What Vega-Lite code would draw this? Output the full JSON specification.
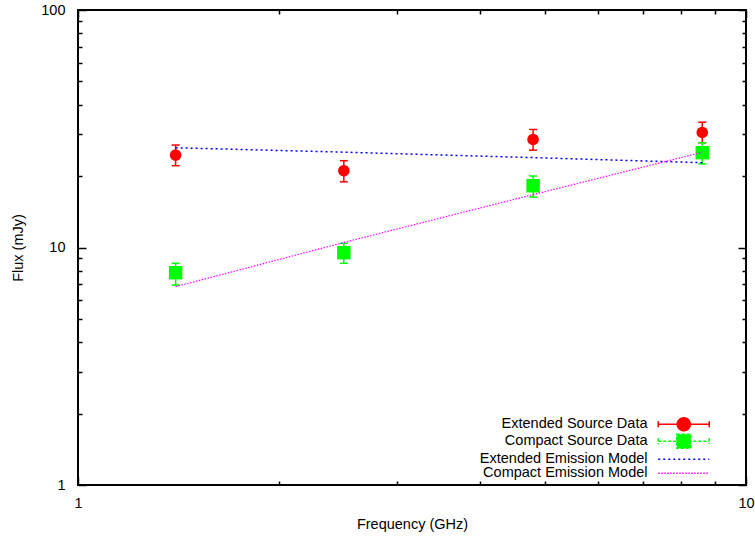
{
  "$schema": "https://vega.github.io/schema/vega-lite/v6.json",
  "width": 668,
  "height": 475,
  "autosize": {"type": "none"},
  "padding": {"left": 78, "top": 10, "right": 9, "bottom": 52},
  "background": "white",
  "config": {
    "view": {"stroke": "black", "strokeWidth": 2},
    "font": "Liberation Sans",
    "axis": {
      "domain": false,
      "grid": false,
      "labelFont": "Liberation Sans",
      "labelFontSize": 14.5,
      "labelColor": "black",
      "titleFont": "Liberation Sans",
      "titleFontSize": 14.5,
      "titleFontWeight": "normal",
      "titleColor": "black",
      "tickColor": "black",
      "tickWidth": 1.5
    },
    "legend": {
      "orient": "none",
      "legendX": 598.5,
      "legendY": 407,
      "padding": 0,
      "symbolSize": 100,
      "symbolStrokeWidth": 1.5,
      "symbolOpacity": 1,
      "labelAlign": "right",
      "labelOffset": -43.5,
      "labelFont": "Liberation Sans",
      "labelFontSize": 14.5,
      "labelColor": "black",
      "labelLimit": 0,
      "rowPadding": -5
    }
  },
  "datasets": {
    "points": [
      {"series": "Extended Source Data", "freq": 1.4, "flux": 24.5, "lo": 22.1, "hi": 27.0},
      {"series": "Extended Source Data", "freq": 2.5, "flux": 21.05, "lo": 18.9, "hi": 23.2},
      {"series": "Extended Source Data", "freq": 4.8, "flux": 28.5, "lo": 25.7, "hi": 31.4},
      {"series": "Extended Source Data", "freq": 8.6, "flux": 30.5, "lo": 27.6, "hi": 33.7},
      {"series": "Compact Source Data", "freq": 1.4, "flux": 7.83, "lo": 6.95, "hi": 8.58},
      {"series": "Compact Source Data", "freq": 2.5, "flux": 9.51, "lo": 8.58, "hi": 10.42},
      {"series": "Compact Source Data", "freq": 4.8, "flux": 18.2, "lo": 16.3, "hi": 20.0},
      {"series": "Compact Source Data", "freq": 8.6, "flux": 25.07, "lo": 22.5, "hi": 27.6}
    ],
    "models": [
      {"model": "Extended Emission Model", "freq": 1.4, "flux": 26.3},
      {"model": "Extended Emission Model", "freq": 2.5, "flux": 25.2},
      {"model": "Extended Emission Model", "freq": 4.8, "flux": 23.9},
      {"model": "Extended Emission Model", "freq": 8.6, "flux": 22.75},
      {"model": "Compact Emission Model", "freq": 1.4, "flux": 6.84},
      {"model": "Compact Emission Model", "freq": 2.5, "flux": 10.5},
      {"model": "Compact Emission Model", "freq": 4.8, "flux": 16.7},
      {"model": "Compact Emission Model", "freq": 8.6, "flux": 25.17}
    ]
  },
  "layer": [
    {
      "layer": [
        {
          "data": {"name": "points"},
          "transform": [{"filter": "datum.series == 'Extended Source Data'"}],
          "mark": {"type": "rule", "color": "#ff0000", "strokeWidth": 1.5},
          "encoding": {
            "x": {
              "field": "freq", "type": "quantitative",
              "scale": {"type": "log", "domain": [1, 10], "nice": false},
              "axis": {
                "title": "Frequency (GHz)",
                "values": [1, 2, 3, 4, 5, 6, 7, 8, 9, 10],
                "labelExpr": "(datum.value == 1 || datum.value == 10) ? format(datum.value, 'd') : ''",
                "tickSize": {"condition": {"test": "datum.value == 1 || datum.value == 10", "value": -8}, "value": -4},
                "labelPadding": 19,
                "titlePadding": 4,
                "labelFlush": false,
                "labelOverlap": false
              }
            },
            "y": {
              "field": "lo", "type": "quantitative",
              "scale": {"type": "log", "domain": [1, 100], "nice": false},
              "axis": {
                "title": "Flux (mJy)",
                "values": [1, 2, 3, 4, 5, 6, 7, 8, 9, 10, 20, 30, 40, 50, 60, 70, 80, 90, 100],
                "labelExpr": "(datum.value == 1 || datum.value == 10 || datum.value == 100) ? format(datum.value, 'd') : ''",
                "tickSize": {"condition": {"test": "datum.value == 1 || datum.value == 10 || datum.value == 100", "value": -8}, "value": -4},
                "labelPadding": 21,
                "titlePadding": 15,
                "labelFlush": false,
                "labelOverlap": false
              }
            },
            "y2": {"field": "hi"}
          }
        },
        {
          "data": {"name": "points"},
          "transform": [
            {"filter": "datum.series == 'Extended Source Data'"},
            {"fold": ["lo", "hi"], "as": ["end", "val"]}
          ],
          "mark": {"type": "tick", "orient": "horizontal", "color": "#ff0000", "size": 8, "thickness": 1.5, "opacity": 1},
          "encoding": {
            "x": {"field": "freq", "type": "quantitative", "scale": {"type": "log", "domain": [1, 10], "nice": false}},
            "y": {"field": "val", "type": "quantitative", "scale": {"type": "log", "domain": [1, 100], "nice": false}}
          }
        },
        {
          "data": {"name": "points"},
          "transform": [{"filter": "datum.series == 'Extended Source Data'"}],
          "mark": {"type": "circle", "color": "#ff0000", "size": 135, "opacity": 1},
          "encoding": {
            "x": {"field": "freq", "type": "quantitative", "scale": {"type": "log", "domain": [1, 10], "nice": false}},
            "y": {"field": "flux", "type": "quantitative", "scale": {"type": "log", "domain": [1, 100], "nice": false}}
          }
        },
        {
          "data": {"name": "points"},
          "transform": [{"filter": "datum.series == 'Compact Source Data'"}],
          "mark": {"type": "rule", "color": "#00ff00", "strokeWidth": 1.5},
          "encoding": {
            "x": {"field": "freq", "type": "quantitative", "scale": {"type": "log", "domain": [1, 10], "nice": false}},
            "y": {"field": "lo", "type": "quantitative", "scale": {"type": "log", "domain": [1, 100], "nice": false}},
            "y2": {"field": "hi"}
          }
        },
        {
          "data": {"name": "points"},
          "transform": [
            {"filter": "datum.series == 'Compact Source Data'"},
            {"fold": ["lo", "hi"], "as": ["end", "val"]}
          ],
          "mark": {"type": "tick", "orient": "horizontal", "color": "#00ff00", "size": 8, "thickness": 1.5, "opacity": 1},
          "encoding": {
            "x": {"field": "freq", "type": "quantitative", "scale": {"type": "log", "domain": [1, 10], "nice": false}},
            "y": {"field": "val", "type": "quantitative", "scale": {"type": "log", "domain": [1, 100], "nice": false}}
          }
        },
        {
          "data": {"name": "points"},
          "transform": [{"filter": "datum.series == 'Compact Source Data'"}],
          "mark": {"type": "square", "color": "#00ff00", "size": 180, "opacity": 1},
          "encoding": {
            "x": {"field": "freq", "type": "quantitative", "scale": {"type": "log", "domain": [1, 10], "nice": false}},
            "y": {"field": "flux", "type": "quantitative", "scale": {"type": "log", "domain": [1, 100], "nice": false}}
          }
        },
        {
          "data": {"name": "models"},
          "transform": [{"filter": "datum.model == 'Extended Emission Model'"}],
          "mark": {"type": "line", "color": "#0000ff", "strokeWidth": 1.5, "strokeDash": [2, 3]},
          "encoding": {
            "x": {"field": "freq", "type": "quantitative", "scale": {"type": "log", "domain": [1, 10], "nice": false}},
            "y": {"field": "flux", "type": "quantitative", "scale": {"type": "log", "domain": [1, 100], "nice": false}}
          }
        },
        {
          "data": {"name": "models"},
          "transform": [{"filter": "datum.model == 'Compact Emission Model'"}],
          "mark": {"type": "line", "color": "#ff00ff", "strokeWidth": 1.2, "strokeDash": [1.5, 1.5]},
          "encoding": {
            "x": {"field": "freq", "type": "quantitative", "scale": {"type": "log", "domain": [1, 10], "nice": false}},
            "y": {"field": "flux", "type": "quantitative", "scale": {"type": "log", "domain": [1, 100], "nice": false}}
          }
        },
        {
          "data": {"name": "points"},
          "transform": [{"filter": "false"}],
          "mark": {"type": "point", "opacity": 1, "strokeWidth": 1.5},
          "encoding": {
            "fill": {
              "field": "series", "type": "nominal",
              "scale": {
                "domain": ["Extended Source Data", "Compact Source Data", "Extended Emission Model", "Compact Emission Model"],
                "range": ["#ff0000", "#00ff00", "#0000ff", "#ff00ff"]
              },
              "legend": {
                "title": null,
                "encode": {
                  "symbols": {
                    "update": {
                      "strokeDash": {"signal": "datum.value == 'Compact Source Data' ? [3, 2] : datum.value == 'Extended Emission Model' ? [2, 3] : datum.value == 'Compact Emission Model' ? [1.5, 1.5] : [1, 0]"}
                    }
                  }
                }
              }
            },
            "stroke": {
              "field": "series", "type": "nominal",
              "scale": {
                "domain": ["Extended Source Data", "Compact Source Data", "Extended Emission Model", "Compact Emission Model"],
                "range": ["#ff0000", "#00ff00", "#0000ff", "#ff00ff"]
              },
              "legend": {"title": null}
            },
            "shape": {
              "field": "series", "type": "nominal",
              "scale": {
                "domain": ["Extended Source Data", "Compact Source Data", "Extended Emission Model", "Compact Emission Model"],
                "range": [
                  "M-5.1,0L5.1,0M-5.1,-0.6L-5.1,0.6M5.1,-0.6L5.1,0.6M1.3,0A1.3,1.3 0 1,1 -1.3,0A1.3,1.3 0 1,1 1.3,0Z",
                  "M-5.1,0L5.1,0M-5.1,-0.6L-5.1,0.6M5.1,-0.6L5.1,0.6M-1.4,-1.4L1.4,-1.4L1.4,1.4L-1.4,1.4Z",
                  "M-5.1,0L5.1,0",
                  "M-5.1,0L5.1,0"
                ]
              },
              "legend": {"title": null}
            }
          }
        }
      ]
    },
    {
      "data": {"name": "points"},
      "mark": {"type": "point", "opacity": 0},
      "encoding": {
        "x": {
          "field": "freq", "type": "quantitative",
          "scale": {"type": "log", "domain": [1, 10], "nice": false},
          "axis": {
            "orient": "top", "title": null, "labels": false,
            "values": [1, 2, 3, 4, 5, 6, 7, 8, 9, 10],
            "tickSize": {"condition": {"test": "datum.value == 1 || datum.value == 10", "value": -8}, "value": -4}
          }
        },
        "y": {
          "field": "flux", "type": "quantitative",
          "scale": {"type": "log", "domain": [1, 100], "nice": false},
          "axis": {
            "orient": "right", "title": null, "labels": false,
            "values": [1, 2, 3, 4, 5, 6, 7, 8, 9, 10, 20, 30, 40, 50, 60, 70, 80, 90, 100],
            "tickSize": {"condition": {"test": "datum.value == 1 || datum.value == 10 || datum.value == 100", "value": -8}, "value": -4}
          }
        }
      }
    }
  ],
  "resolve": {"axis": {"x": "independent", "y": "independent"}}
}
